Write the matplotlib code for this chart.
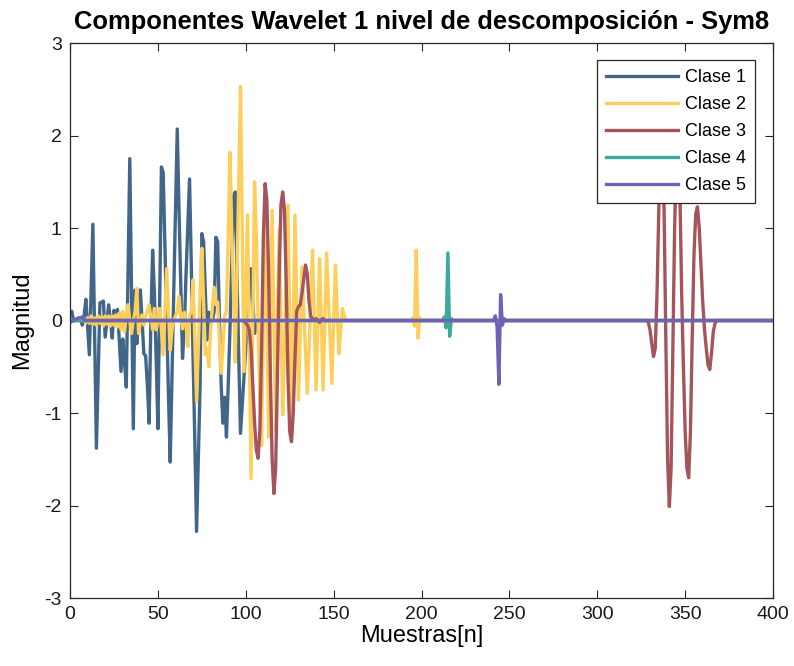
import numpy as np
import matplotlib
matplotlib.use("Agg")
import matplotlib.pyplot as plt

plt.rcParams['font.family'] = ['Liberation Sans', 'DejaVu Sans']
plt.rcParams['axes.unicode_minus'] = False

n_muestras = 400
etiquetas = ["Clase 1", "Clase 2", "Clase 3", "Clase 4", "Clase 5"]
colores = ["#41668A", "#FDCF5A", "#A6545B", "#3BAA9C", "#6E62B6"]

# Nonzero stretches of each detail-coefficient signal: (first sample, values)
clase1_inicio = 0
clase1_valores = [
    0.08, 0.10, 0.00, 0.00, 0.02, 0.00, 0.02, -0.05, 0.05, 0.23,
    -0.07, -0.37, 0.33, 1.04, -0.17, -1.38, -0.60, 0.19, 0.20, 0.21,
    -0.18, 0.00, 0.17, 0.00, -0.19, 0.11, 0.05, 0.12, -0.20, -0.55,
    -0.20, -0.45, -0.72, 0.50, 1.75, 0.30, -1.17, 0.33, -0.25, 0.05,
    0.33, 0.00, -0.36, -0.38, -0.70, -1.11, 0.00, 0.76, 0.30, -0.40,
    -1.17, 0.20, 1.66, 1.60, 0.80, 0.00, -0.80, -1.53, -0.60, 0.30,
    1.20, 2.07, 1.20, 0.40, -0.41, -0.10, 0.50, 1.00, 1.53, 0.60,
    -0.40, -1.30, -2.28, -1.50, -0.70, 0.94, 0.85, 0.30, -0.21, 0.09,
    0.05, 0.00, 0.10, 0.90, 0.85, 0.00, -0.70, -1.11, -0.83, -1.26,
    -0.70, -0.10, 0.60, 1.35, 1.39, 0.50, -0.40, -1.22, -0.90, -0.60,
    -0.30, 0.00, 0.30, 0.56, 0.20, -0.14, 0.00,
]

clase2_inicio = 8
clase2_valores = [
    0.02, -0.03, 0.03, -0.03, 0.05, -0.04, 0.03, -0.05, 0.05, -0.03,
    0.04, -0.06, 0.05, -0.04, 0.05, -0.06, 0.05, -0.05, 0.06, -0.07,
    0.08, -0.10, 0.10, -0.12, 0.05, 0.17, 0.00, -0.14, 0.00, 0.10,
    0.35, -0.14, -0.02, 0.06, -0.05, 0.05, 0.10, 0.17, 0.03, -0.10,
    0.13, -0.10, 0.00, 0.13, -0.10, -0.37, 0.10, 0.56, 0.10, -0.32,
    -0.10, 0.00, 0.05, 0.10, 0.26, 0.05, -0.09, 0.09, -0.05, -0.28,
    0.05, 0.10, 0.44, -0.20, -0.88, -0.30, 0.30, 0.78, 0.20, -0.37,
    -0.30, -0.50, -0.10, 0.15, 0.36, 0.17, 0.20, -0.20, -0.57, -0.30,
    0.05, 0.10, 0.90, 1.82, 1.00, 0.30, -0.45, 0.50, 1.50, 2.53,
    1.00, -0.55, 0.30, 1.14, -0.30, -1.71, 0.00, 1.50, 0.90, 0.00,
    -0.90, -1.35, 0.00, 1.30, 0.00, -1.26, 0.00, 1.19, 0.00, -1.20,
    0.00, 0.98, 0.00, -1.02, -0.30, 0.50, 1.25, 0.00, -1.31, -0.10,
    1.14, 0.15, -0.86, -0.15, 0.58, 0.10, -0.35, -0.79, -0.30, 0.25,
    0.76, 0.00, -0.75, -0.05, 0.67, 0.00, -0.75, 0.00, 0.73, 0.25,
    -0.20, -0.68, 0.00, 0.60, 0.10, -0.36, -0.10, 0.13, 0.05, 0.00,
]
clase2_inicio_b = 194
clase2_valores_b = [0.00, 0.03, -0.06, 0.76, -0.19, 0.03, 0.00]

clase3_inicio = 99
clase3_valores = [
    0.00, -0.03, -0.05, -0.10, -0.30, -0.70, -1.10, -1.40, -1.49, -1.20,
    -0.30, 0.90, 1.48, 1.30, 0.50, -0.60, -1.50, -1.87, -1.60, -0.60,
    0.50, 1.25, 1.39, 1.20, 0.40, -0.60, -1.20, -1.31, -1.00, -0.40,
    0.10, 0.15, 0.17, 0.30, 0.45, 0.60, 0.50, 0.20, 0.04, 0.02,
    0.00, 0.02, 0.00, -0.02, 0.01, 0.02, 0.00,
]
clase3_inicio_b = 328
clase3_valores_b = [
    0.00, -0.02, -0.10, -0.25, -0.39, -0.30, 0.30, 1.20, 1.85, 1.95,
    1.20, -0.20, -1.50, -2.01, -1.60, -0.30, 1.00, 1.80, 2.00, 1.40,
    0.30, -0.50, -1.20, -1.60, -1.70, -1.20, -0.20, 0.70, 1.15, 1.23,
    1.00, 0.60, 0.20, -0.10, -0.30, -0.48, -0.53, -0.35, -0.12, -0.03,
    0.00,
]

clase4_inicio = 212
clase4_valores = [0.00, 0.04, -0.08, 0.73, -0.17, 0.02, 0.00]

clase5_inicio = 0
clase5_valores = [-0.02, -0.01, 0.00, 0.01, 0.02, 0.03, 0.03, 0.04, 0.01, 0.00]
clase5_inicio_b = 241
clase5_valores_b = [0.00, 0.05, -0.07, -0.69, 0.28, -0.05, 0.02, 0.00]


def senal(*tramos):
    y = np.zeros(n_muestras)
    for inicio, valores in tramos:
        y[inicio:inicio + len(valores)] = valores
    return y


senales = [
    senal((clase1_inicio, clase1_valores)),
    senal((clase2_inicio, clase2_valores), (clase2_inicio_b, clase2_valores_b)),
    senal((clase3_inicio, clase3_valores), (clase3_inicio_b, clase3_valores_b)),
    senal((clase4_inicio, clase4_valores)),
    senal((clase5_inicio, clase5_valores), (clase5_inicio_b, clase5_valores_b)),
]
muestras = np.arange(n_muestras)

fig = plt.figure(figsize=(7.94, 6.66), dpi=100)
ax = fig.add_axes([0.0882, 0.1021, 0.8854, 0.8333])

for y, c, lab in zip(senales, colores, etiquetas):
    ax.plot(muestras, y, color=c, linewidth=2.4, label=lab)

ax.set_xlim(0, 400)
ax.set_ylim(-3, 3)
ax.set_xticks(np.arange(0, 401, 50))
ax.set_yticks(np.arange(-3, 4, 1))

eje = "#262626"
for s in ax.spines.values():
    s.set_color(eje)
    s.set_linewidth(0.9)
ax.tick_params(direction='in', length=6, width=0.8, colors=eje,
               top=True, right=True, labelsize=14, labelcolor='#1a1a1a', pad=6)

ax.set_title("Componentes Wavelet 1 nivel de descomposición - Sym8",
             fontsize=18.4, fontweight='bold', pad=10)
ax.set_xlabel("Muestras[n]", fontsize=17, labelpad=1)
ax.set_ylabel("Magnitud", fontsize=17, labelpad=8)

leg = ax.legend(loc='upper right', bbox_to_anchor=(0.9744, 0.969),
                borderaxespad=0, fontsize=13, handlelength=4.0,
                labelspacing=0.55, fancybox=False, framealpha=1,
                edgecolor=eje, borderpad=0.5, handletextpad=0.4)
leg.get_frame().set_linewidth(0.9)

fig.savefig("out.png", dpi=100)
